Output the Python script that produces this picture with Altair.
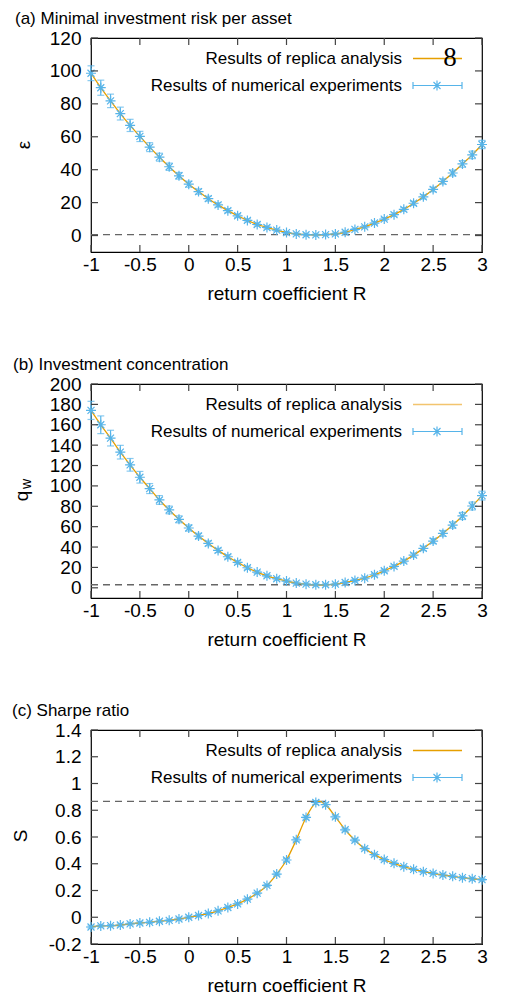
import altair as alt
import pandas as pd

# ---------------- data ----------------
R = [-1.0, -0.9, -0.8, -0.7, -0.6, -0.5, -0.4, -0.3, -0.2, -0.1, 0.0,
     0.1, 0.2, 0.3, 0.4, 0.5, 0.6, 0.7, 0.8, 0.9, 1.0,
     1.1, 1.2, 1.3, 1.4, 1.5, 1.6, 1.7, 1.8, 1.9, 2.0,
     2.1, 2.2, 2.3, 2.4, 2.5, 2.6, 2.7, 2.8, 2.9, 3.0]

eps_num = [98.6, 89.8, 81.8, 74.1, 66.9, 60.2, 53.7, 47.6, 41.8, 36.3, 31.2,
           26.7, 22.4, 18.6, 15.1, 12.0, 9.2, 6.7, 4.9, 3.3, 1.8,
           1.0, 0.5, 0.4, 0.6, 1.0, 2.0, 3.7, 5.3, 7.6, 10.0,
           12.7, 15.9, 19.6, 23.5, 28.0, 32.9, 38.0, 43.5, 49.0, 55.3]
eps_err = [4.5, 4.6, 4.1, 3.9, 3.7, 3.1, 2.7, 2.4, 2.2, 2.0, 1.8,
           1.6, 1.5, 1.3, 1.2, 1.1, 1.0, 0.9, 0.8, 0.7, 0.6,
           0.5, 0.5, 0.5, 0.5, 0.5, 0.6, 0.6, 0.7, 0.8, 0.9,
           1.0, 1.1, 1.2, 1.3, 1.4, 1.6, 1.8, 2.0, 2.3, 2.5]
eps_rep = eps_num
eps_ref = 0.5

qw_num = [174.1, 160.0, 146.9, 133.1, 120.7, 108.5, 97.4, 86.2, 76.4, 67.2, 58.7,
          50.8, 43.6, 36.7, 30.5, 24.9, 19.7, 15.4, 11.8, 8.9, 6.6,
          4.6, 3.6, 3.0, 3.0, 3.6, 5.2, 7.2, 9.5, 12.8, 16.7,
          21.0, 26.2, 32.1, 38.7, 45.9, 53.4, 61.6, 70.5, 80.3, 90.5]
qw_err = [8.9, 8.7, 7.7, 6.7, 6.2, 5.7, 4.9, 4.3, 3.8, 3.4, 3.0,
          2.7, 2.4, 2.1, 1.9, 1.7, 1.5, 1.3, 1.2, 1.1, 1.0,
          0.9, 0.9, 0.9, 0.9, 0.9, 1.0, 1.1, 1.2, 1.3, 1.5,
          1.6, 1.8, 2.0, 2.2, 2.5, 2.8, 3.1, 3.5, 3.9, 4.3]
qw_rep = qw_num
qw_ref = 3.0

S_num = [-0.073, -0.065, -0.063, -0.058, -0.050, -0.043, -0.038, -0.030, -0.023, -0.013, 0.000,
         0.013, 0.028, 0.048, 0.073, 0.100, 0.135, 0.180, 0.238, 0.323, 0.428,
         0.579, 0.746, 0.858, 0.842, 0.751, 0.654, 0.576, 0.513, 0.468, 0.431,
         0.403, 0.378, 0.358, 0.341, 0.328, 0.316, 0.306, 0.296, 0.288, 0.281]
S_err = [0.008] * 20 + [0.012, 0.012, 0.012, 0.014, 0.014, 0.012, 0.01, 0.01, 0.01, 0.01, 0.01] + [0.008] * 10
R_rep_c = [-1.0, -0.9, -0.8, -0.7, -0.6, -0.5, -0.4, -0.3, -0.2, -0.1, 0.0,
           0.1, 0.2, 0.3, 0.4, 0.5, 0.6, 0.7, 0.8, 0.9, 1.0,
           1.1, 1.2, 1.3, 1.333, 1.4, 1.5, 1.6, 1.7, 1.8, 1.9, 2.0,
           2.1, 2.2, 2.3, 2.4, 2.5, 2.6, 2.7, 2.8, 2.9, 3.0]
S_rep = [-0.073, -0.065, -0.063, -0.058, -0.050, -0.043, -0.038, -0.030, -0.023, -0.013, 0.000,
         0.013, 0.028, 0.048, 0.073, 0.100, 0.135, 0.180, 0.238, 0.323, 0.428,
         0.579, 0.746, 0.856, 0.866, 0.842, 0.751, 0.654, 0.576, 0.513, 0.468, 0.431,
         0.403, 0.378, 0.358, 0.341, 0.328, 0.316, 0.306, 0.296, 0.288, 0.281]
S_ref = 0.866

x_ticks = [-1, -0.5, 0, 0.5, 1, 1.5, 2, 2.5, 3]
y_ticks_a = [0, 20, 40, 60, 80, 100, 120]
y_ticks_b = [0, 20, 40, 60, 80, 100, 120, 140, 160, 180, 200]
y_ticks_c = [-0.2, 0, 0.2, 0.4, 0.6, 0.8, 1, 1.2, 1.4]

titles = ["(a) Minimal investment risk per asset",
          "(b) Investment concentration",
          "(c) Sharpe ratio"]
legend_labels = ["Results of replica analysis", "Results of numerical experiments"]
x_title = "return coefficient R"

# ---------------- styling ----------------
W, H = 391, 214
ORANGE = "#E69F00"
BLUE = "#56B4E9"
TICKC = "#444444"
FONT = "Liberation Sans"
STAR = "M-1,0L1,0M0,-1L0,1M-0.7,-0.7L0.7,0.7M-0.7,0.7L0.7,-0.7"
LBL = "datum.value < 0 ? '-' + format(-datum.value, '~g') : format(datum.value, '~g')"


def one():
    return pd.DataFrame({"a": [0]})


def panel(title, rx, ynum, yerr, rrx, yrep, yref, ydom, yticks, ytitle_parts,
          legend_line_color, extra_glyph=False):
    xs = alt.Scale(domain=[-1, 3], nice=False, zero=False)
    ys = alt.Scale(domain=ydom, nice=False, zero=False)
    xax = alt.Axis(values=x_ticks, title=x_title, labelExpr=LBL, ticks=False,
                   tickSize=0, domain=False, grid=False, labelFontSize=19,
                   titleFontSize=19, titleFontWeight="normal", labelPadding=3,
                   titlePadding=10.5, labelColor="black", titleColor="black",
                   labelFlush=False, labelOverlap=False)
    yax = alt.Axis(values=yticks, title=None, labelExpr=LBL, ticks=False,
                   tickSize=0, domain=False, grid=False, labelFontSize=19,
                   labelPadding=10, labelColor="black", labelOverlap=False,
                   labelFlush=False)

    dnum = pd.DataFrame({"R": rx, "v": ynum,
                         "lo": [a - b for a, b in zip(ynum, yerr)],
                         "hi": [a + b for a, b in zip(ynum, yerr)]})
    drep = pd.DataFrame({"R": rrx, "v": yrep})

    X = lambda f: alt.X(f, scale=xs, axis=xax)
    Y = lambda f: alt.Y(f, scale=ys, axis=yax)

    ref = alt.Chart(pd.DataFrame({"v": [yref]})).mark_rule(
        color="#666666", strokeDash=[7, 5], strokeWidth=1.3
    ).encode(y=Y("v:Q"), x=alt.value(0), x2=alt.value(W))

    err = alt.Chart(dnum).mark_errorbar(
        ticks={"size": 7, "thickness": 1.2}, color=BLUE, thickness=1.2
    ).encode(x=X("R:Q"), y=Y("lo:Q"), y2="hi:Q")

    line = alt.Chart(drep).mark_line(color=ORANGE, strokeWidth=1.3,
                                     interpolate="monotone").encode(
        x=X("R:Q"), y=Y("v:Q"))

    pts = alt.Chart(dnum).mark_point(shape=STAR, size=100, filled=False,
                                     color=BLUE, strokeWidth=1.2, opacity=1).encode(
        x=X("R:Q"), y=Y("v:Q"))

    dxt = pd.DataFrame({"R": x_ticks})
    dyt = pd.DataFrame({"v": yticks})
    xt_b = alt.Chart(dxt).mark_rule(color=TICKC, strokeWidth=1.2).encode(
        x=X("R:Q"), y=alt.value(H), y2=alt.value(H - 7))
    xt_t = alt.Chart(dxt).mark_rule(color=TICKC, strokeWidth=1.2).encode(
        x=X("R:Q"), y=alt.value(0), y2=alt.value(7))
    yt_l = alt.Chart(dyt).mark_rule(color=TICKC, strokeWidth=1.2).encode(
        y=Y("v:Q"), x=alt.value(0), x2=alt.value(7))
    yt_r = alt.Chart(dyt).mark_rule(color=TICKC, strokeWidth=1.2).encode(
        y=Y("v:Q"), x=alt.value(W - 7), x2=alt.value(W))

    layers = [ref, err, line, pts, xt_b, xt_t, yt_l, yt_r]

    # legend
    for lab, yy in zip(legend_labels, [20.5, 47.5]):
        layers.append(alt.Chart(one()).mark_text(
            align="right", baseline="middle", fontSize=17, color="black", text=lab
        ).encode(x=alt.value(311), y=alt.value(yy)))
    layers.append(alt.Chart(one()).mark_rule(color=legend_line_color, strokeWidth=1.5).encode(
        x=alt.value(322), x2=alt.value(371), y=alt.value(20.5)))
    layers.append(alt.Chart(one()).mark_rule(color=BLUE, strokeWidth=1.2).encode(
        x=alt.value(322), x2=alt.value(371), y=alt.value(47.5)))
    for cx in [322, 371]:
        layers.append(alt.Chart(one()).mark_rule(color=BLUE, strokeWidth=1.2).encode(
            x=alt.value(cx), y=alt.value(44), y2=alt.value(51)))
    layers.append(alt.Chart(one()).mark_point(
        shape=STAR, size=100, filled=False, color=BLUE, strokeWidth=1.2, opacity=1
    ).encode(x=alt.value(346), y=alt.value(47.5)))

    if extra_glyph:
        layers.append(alt.Chart(one()).mark_text(
            font="Liberation Serif", fontSize=27, color="black",
            align="center", baseline="middle", text="8").encode(
            x=alt.value(359), y=alt.value(20)))

    for s, px, py, fs in ytitle_parts:
        layers.append(alt.Chart(one()).mark_text(
            angle=270, align="center", baseline="middle", color="black",
            fontSize=fs, text=s).encode(x=alt.value(px), y=alt.value(py)))

    ch = alt.layer(*layers).properties(
        width=W, height=H,
        title=alt.TitleParams(title, anchor="start", fontSize=17, fontWeight="normal",
                              color="black", offset=1.5, font=FONT))
    return ch


pa = panel(titles[0], R, eps_num, eps_err, R, eps_rep, eps_ref, [-10, 120], y_ticks_a,
           [("ε", -67, 107, 19)], ORANGE, extra_glyph=True)
pb = panel(titles[1], R, qw_num, qw_err, R, qw_rep, qw_ref, [-10, 200], y_ticks_b,
           [("q", -69, 112, 19), ("w", -64, 100, 14)], "#F2C46E")
pc = panel(titles[2], R, S_num, S_err, R_rep_c, S_rep, S_ref, [-0.2, 1.4], y_ticks_c,
           [("S", -70, 106, 19)], ORANGE)

chart = alt.vconcat(pa, pb, pc, spacing=49).configure(font=FONT).configure_view(
    stroke="black", strokeWidth=1.2).properties(
    padding={"left": 3, "top": 0, "right": 0, "bottom": 0})

chart.save("out.html", embed_options={"renderer": "svg", "actions": False})
